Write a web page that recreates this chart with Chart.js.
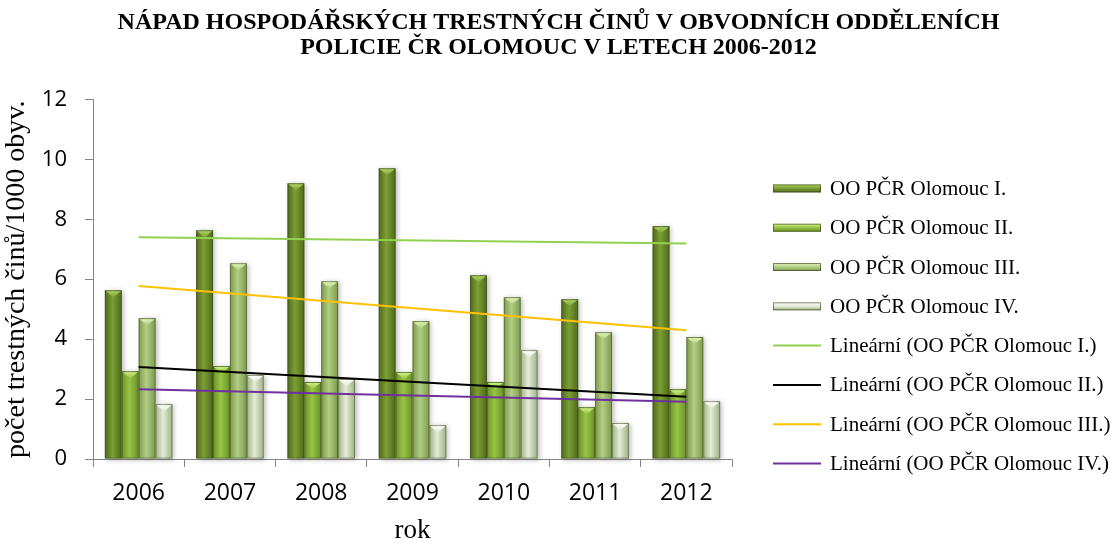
<!DOCTYPE html>
<html>
<head>
<meta charset="utf-8">
<script src="https://cdn.jsdelivr.net/npm/chart.js@4/dist/chart.umd.min.js"></script>
<style>
  html, body { margin: 0; padding: 0; background: #fff; }
</style>
</head>
<body>
<canvas id="chart" width="1117" height="544"></canvas>
<script>
const years = ['2006', '2007', '2008', '2009', '2010', '2011', '2012'];

const olomoucI = [5.63, 7.63, 9.2, 9.7, 6.13, 5.33, 7.77];
const olomoucII = [2.93, 3.1, 2.57, 2.9, 2.57, 1.73, 2.33];
const olomoucIII = [4.7, 6.53, 5.93, 4.6, 5.4, 4.23, 4.07];
const olomoucIV = [1.83, 2.8, 2.67, 1.13, 3.63, 1.2, 1.93];

// trend lines: value at 2006 and at 2012
const trendI = [7.4, 7.19];
const trendII = [3.07, 2.08];
const trendIII = [5.77, 4.3];
const trendIV = [2.33, 1.91];

const yMax = 12;
const yStep = 2;

const serifFont = '"Liberation Serif", "Times New Roman", serif';
const sansFont = '"Open Sans", "Noto Sans", sans-serif';
const axisGrey = '#868686';

// bar look: darker edge, lighter middle, light chevron at the top
const shades = [
  { edge: '#4e6a1b', mid: '#7d9e34', cap: '#b3d86a' },
  { edge: '#6a9224', mid: '#98c446', cap: '#d6f28e' },
  { edge: '#7c994b', mid: '#b2ce84', cap: '#e6f6bc' },
  { edge: '#9fb186', mid: '#e4ecd6', cap: '#ffffff' }
];

function ends(pair) {
  // only first and last category carry a value, spanGaps joins them
  return years.map((_, i) => (i === 0 ? pair[0] : i === years.length - 1 ? pair[1] : null));
}

function barSet(label, data) {
  return {
    type: 'bar',
    label,
    data,
    order: 1,
    backgroundColor: 'rgba(0,0,0,0)', // painted by barLook
    borderWidth: 0,
    categoryPercentage: 0.74,
    barPercentage: 1.0
  };
}

function trendSet(label, pair, color) {
  return {
    type: 'line',
    label,
    data: ends(pair),
    order: 0,
    borderColor: color,
    backgroundColor: color,
    borderWidth: 2,
    pointRadius: 0,
    spanGaps: true,
    fill: false
  };
}

function paintBar(ctx, bar, shade) {
  const { x, y, base, width } = bar.getProps(['x', 'y', 'base', 'width'], true);
  const l = x - width / 2;
  const r = x + width / 2;
  const g = ctx.createLinearGradient(l, 0, r, 0);
  g.addColorStop(0, shade.edge);
  g.addColorStop(0.45, shade.mid);
  g.addColorStop(1, shade.edge);
  ctx.save();
  ctx.shadowColor = 'rgba(0,0,0,0.28)';
  ctx.shadowBlur = 5;
  ctx.shadowOffsetX = 2;
  ctx.shadowOffsetY = 1;
  ctx.fillStyle = g;
  ctx.fillRect(l, y, width, base - y);
  ctx.restore();

  ctx.save();
  ctx.strokeStyle = 'rgba(50,60,25,0.45)';
  ctx.lineWidth = 1;
  ctx.strokeRect(l + 0.5, y + 0.5, width - 1, base - y - 1);
  const cg = ctx.createLinearGradient(0, y, 0, y + 7);
  cg.addColorStop(0, shade.cap);
  cg.addColorStop(1, shade.mid);
  ctx.fillStyle = cg;
  ctx.beginPath();
  ctx.moveTo(l + 1, y + 1);
  ctx.lineTo(r - 1, y + 1);
  ctx.lineTo(x, y + 7);
  ctx.closePath();
  ctx.fill();
  ctx.restore();
}

const barLook = {
  id: 'barLook',
  beforeDatasetsDraw(chart) {
    const ctx = chart.ctx;
    chart.data.datasets.forEach((ds, i) => {
      if (ds.type !== 'bar') return;
      chart.getDatasetMeta(i).data.forEach(bar => paintBar(ctx, bar, shades[i]));
    });
  }
};

const legendBox = {
  id: 'legendBox',
  afterDraw(chart) {
    const ctx = chart.ctx;
    const x0 = chart.chartArea.right + 41;
    let y = chart.chartArea.top + 89;
    ctx.save();
    ctx.font = '21px ' + serifFont;
    ctx.textBaseline = 'middle';
    chart.data.datasets.forEach((ds, i) => {
      if (ds.type === 'line') {
        ctx.strokeStyle = ds.borderColor;
        ctx.lineWidth = 2;
        ctx.beginPath();
        ctx.moveTo(x0, y);
        ctx.lineTo(x0 + 48, y);
        ctx.stroke();
      } else {
        const shade = shades[i];
        const g = ctx.createLinearGradient(0, y - 4, 0, y + 4);
        g.addColorStop(0, shade.cap);
        g.addColorStop(0.5, shade.mid);
        g.addColorStop(1, shade.edge);
        ctx.fillStyle = g;
        ctx.fillRect(x0, y - 4, 48, 8);
        ctx.strokeStyle = 'rgba(50,60,25,0.6)';
        ctx.lineWidth = 1;
        ctx.strokeRect(x0 + 0.5, y - 3.5, 47, 7);
      }
      ctx.fillStyle = '#000';
      ctx.fillText(ds.label, x0 + 57, y + 1);
      y += 39.3;
    });
    ctx.restore();
  }
};

new Chart(document.getElementById('chart').getContext('2d'), {
  data: {
    labels: years,
    datasets: [
      barSet('OO PČR Olomouc I.', olomoucI),
      barSet('OO PČR Olomouc II.', olomoucII),
      barSet('OO PČR Olomouc III.', olomoucIII),
      barSet('OO PČR Olomouc IV.', olomoucIV),
      trendSet('Lineární (OO PČR Olomouc I.)', trendI, '#92d050'),
      trendSet('Lineární (OO PČR Olomouc II.)', trendII, '#000000'),
      trendSet('Lineární (OO PČR Olomouc III.)', trendIII, '#ffc000'),
      trendSet('Lineární (OO PČR Olomouc IV.)', trendIV, '#7030a0')
    ]
  },
  options: {
    responsive: false,
    devicePixelRatio: 1,
    animation: false,
    layout: { padding: 0 },
    plugins: {
      legend: { display: false },
      tooltip: { enabled: false },
      title: {
        display: true,
        text: ['NÁPAD HOSPODÁŘSKÝCH TRESTNÝCH ČINŮ V OBVODNÍCH ODDĚLENÍCH', 'POLICIE ČR OLOMOUC V LETECH 2006-2012'],
        color: '#000',
        font: { family: serifFont, size: 24, weight: 'bold', lineHeight: 1.05 },
        padding: { top: 10, bottom: 39 }
      }
    },
    scales: {
      x: {
        type: 'category',
        offset: true,
        grid: { offset: true, drawOnChartArea: false, drawTicks: true, tickLength: 8, color: axisGrey },
        border: { color: axisGrey },
        ticks: { color: '#000', font: { family: sansFont, size: 23 }, padding: 13 },
        title: { display: true, text: 'rok', color: '#000', font: { family: serifFont, size: 27, lineHeight: 1 }, padding: { top: 4, bottom: 0 } },
        afterFit(scale) { scale.height = 85; }
      },
      y: {
        min: 0,
        max: yMax,
        grid: { drawOnChartArea: false, drawTicks: true, tickLength: 8, color: axisGrey },
        border: { color: axisGrey },
        ticks: { stepSize: yStep, color: '#000', font: { family: sansFont, size: 22 }, padding: 18 },
        title: { display: true, text: 'počet trestných činů/1000 obyv.', color: '#000', font: { family: serifFont, size: 28 }, padding: { top: 0, bottom: 3 } },
        afterFit(scale) { scale.width = 93; }
      },
      legendSpace: {
        type: 'linear',
        position: 'right',
        display: true,
        grid: { display: false },
        border: { display: false },
        ticks: { display: false },
        afterFit(scale) { scale.width = 385; }
      }
    }
  },
  plugins: [barLook, legendBox]
});
</script>
</body>
</html>
